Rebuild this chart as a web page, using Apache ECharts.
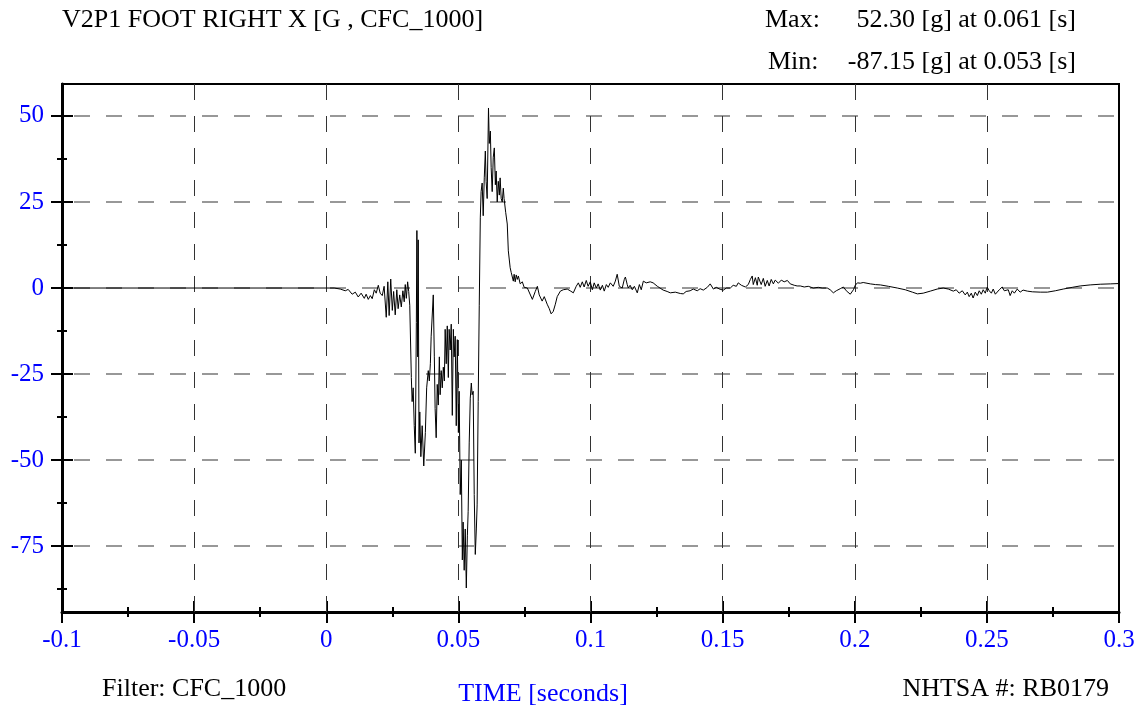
<!DOCTYPE html>
<html>
<head>
<meta charset="utf-8">
<script src="https://cdn.jsdelivr.net/npm/echarts@6/dist/echarts.min.js"></script>
<style>
html,body{margin:0;padding:0;background:#fff;}
#chart{width:1144px;height:708px;}
</style>
</head>
<body>
<div id="chart"></div>
<script>
// ---- data ----
var titleText = 'V2P1 FOOT RIGHT X [G , CFC_1000]';
var maxLabel = 'Max:';
var maxText = '52.30 [g] at 0.061 [s]';
var minLabel = 'Min:';
var minText = '-87.15 [g] at 0.053 [s]';
var filterText = 'Filter: CFC_1000';
var xAxisTitle = 'TIME [seconds]';
var nhtsaText = 'NHTSA #: RB0179';

var xMin = -0.1, xMax = 0.3, xInterval = 0.05;
var yMin = -94.12, yMax = 59.27;
var yTicks = [-75, -50, -25, 0, 25, 50];
var yMinorTicks = [-87.5, -62.5, -37.5, -12.5, 12.5, 37.5];
var xGridValues = [-0.05, 0, 0.05, 0.1, 0.15, 0.2, 0.25];

// time [s]
var times = [
-0.1, 0, 0.003, 0.0053, 0.0072, 0.0083, 0.0098, 0.0110, 0.0121, 0.0132, 0.0144, 0.0151, 0.0159, 0.0167, 0.0174, 0.0182, 0.0189, 0.0197, 0.0204, 0.0212, 0.0219,
0.0227, 0.0233, 0.0238, 0.0244, 0.0250, 0.0255, 0.0261, 0.0267, 0.0272, 0.0278, 0.0284, 0.0290, 0.0295, 0.0299, 0.0303, 0.0308, 0.0312, 0.0316,
0.0322, 0.0325, 0.0329, 0.0333, 0.0337, 0.0341, 0.0343, 0.0346, 0.0348, 0.0351, 0.0354, 0.0358, 0.0363, 0.0369, 0.0375, 0.0380, 0.0386, 0.0390, 0.0394, 0.0397,
0.0405, 0.0409, 0.0412, 0.0416, 0.0420, 0.0424, 0.0428, 0.0431, 0.0435, 0.0439, 0.0443, 0.0447, 0.0450, 0.0454, 0.0458, 0.0462, 0.0465, 0.0469, 0.0473, 0.0477,
0.0481, 0.0484, 0.0488, 0.0492, 0.0496, 0.0500, 0.0503, 0.0507, 0.0511, 0.0515, 0.0518, 0.0522, 0.0526, 0.0530, 0.0534, 0.0537, 0.0541, 0.0545, 0.0549, 0.0552,
0.0556, 0.0560, 0.0564, 0.0568, 0.0571, 0.0575, 0.0579, 0.0583, 0.0586, 0.0590, 0.0594, 0.0598, 0.0602, 0.0605, 0.0609, 0.0614, 0.0617, 0.0621, 0.0624, 0.0628,
0.0632, 0.0636, 0.0640, 0.0643, 0.0647, 0.0651, 0.0655, 0.0658, 0.0662, 0.0666, 0.0670, 0.0673, 0.0679, 0.0685, 0.0689, 0.0696, 0.0700, 0.0708, 0.0711, 0.0715,
0.0719, 0.0723, 0.0727, 0.0734, 0.0742, 0.0749, 0.0761, 0.0768, 0.0780, 0.0791, 0.0799, 0.0806, 0.0817, 0.0825, 0.0836, 0.0844, 0.0851, 0.0859, 0.0867, 0.0874,
0.0886, 0.0897, 0.0912, 0.0923, 0.0935, 0.0946, 0.0954, 0.0961, 0.0969, 0.0976, 0.0984, 0.0991, 0.0999, 0.1007, 0.1014, 0.1022, 0.1029, 0.1037, 0.1045, 0.1052,
0.1060, 0.1067, 0.1075, 0.1086, 0.1094, 0.1101, 0.1109, 0.1116, 0.1120, 0.1128, 0.1132, 0.1139, 0.1143, 0.1150, 0.1158, 0.1166, 0.1177, 0.1185, 0.1192, 0.1200,
0.1211, 0.1226, 0.1237, 0.1253, 0.1275, 0.1290, 0.1302, 0.1321, 0.1340, 0.1351, 0.1362, 0.1377, 0.1389, 0.1404, 0.1415, 0.1427, 0.1442, 0.1453, 0.1465, 0.1476,
0.1491, 0.1503, 0.1514, 0.1529, 0.1540, 0.1552, 0.1559, 0.1571, 0.1586, 0.1597, 0.1605, 0.1612, 0.1616, 0.1624, 0.1631, 0.1635, 0.1642, 0.1646, 0.1654, 0.1661,
0.1669, 0.1676, 0.1684, 0.1692, 0.1699, 0.1711, 0.1722, 0.1733, 0.1745, 0.1756, 0.1771, 0.1782, 0.1794, 0.1809, 0.1824, 0.1843, 0.1862, 0.1877, 0.1896, 0.1907,
0.1919, 0.1930, 0.1945, 0.1957, 0.1968, 0.1983, 0.1995, 0.2002, 0.2010, 0.2021, 0.2032, 0.2059, 0.2078, 0.2097, 0.2127, 0.2161, 0.2191, 0.2218, 0.2237, 0.2259,
0.2286, 0.2312, 0.2335, 0.2354, 0.2373, 0.2384, 0.2395, 0.2407, 0.2418, 0.2426, 0.2433, 0.2441, 0.2448, 0.2456, 0.2464, 0.2471, 0.2479, 0.2486, 0.2494, 0.2501,
0.2509, 0.2517, 0.2524, 0.2532, 0.2539, 0.2547, 0.2558, 0.2566, 0.2573, 0.2581, 0.2588, 0.2596, 0.2604, 0.2615, 0.2626, 0.2637, 0.2653, 0.2672, 0.2702, 0.2729,
0.2759, 0.2789, 0.2823, 0.2853, 0.2891, 0.2929, 0.2967, 0.3
];
// acceleration [g]
var accel = [
0, 0, 0, -0.3, -0.8, -0.4, -1.8, -1.2, -2.6, -1.5, -3.0, -1.8, -3.3, -2.2, -3.1, -0.5, -1.5, 0.8, -1.5, -2.2, 0.5,
-8.5, 1.8, -8.0, 2.6, -6.5, -1.0, -7.8, -0.5, -6.0, -2.0, -5.5, -0.8, -4.0, 1.0, -3.0, 1.8, -1.0, -5,
-26, -33, -29, -40, -48, -10, 16.7, -20, 14, -45, -36, -49, -40, -51.7, -42, -29, -24, -27, -22, -14,
-2, -20, -35, -43.5, -28, -34, -20, -31, -24, -29, -23, -27, -12, -22, -11, -26, -12, -18, -10.5, -37,
-12, -20, -14, -40, -15, -42, -30, -60, -50, -79, -68, -82, -70, -87.15, -72, -65, -45, -32, -27.6, -31,
-30, -60, -77.4, -70, -63, -33, -5, 20.4, 28, 30.5, 21, 32, 39.8, 31, 26, 52.3, 42, 45.6, 35, 28,
38, 40.7, 30, 34, 25, 31, 27, 32, 26, 25, 29, 26, 22, 18.6, 10.8, 5.9, 4.5, 2, 4, 1.8,
3.8, 2.5, 3.5, 1.2, 1.8, 0.2, 0, -0.5, -3.3, -1, 0.5, -2, -3.8, -2.5, -4.7, -6, -7.5, -6.8, -4.7, -2.5,
-0.9, -0.5, -0.3, -0.8, -1.4, 0.5, 1.5, 0.2, 1.8, 0.3, 2.2, 0.5, 1.8, -0.5, 1.5, 0, 1.2, -0.6, 0.8, -0.9,
1, 0.2, 1.5, 0.5, 2, 4, 0.5, 1, 0, 2.5, 3.2, 1, 0, 0.8, -0.5, 0.5, -1.4, 1, -0.5, 2,
1.5, 1.8, 1.5, 0.5, -0.6, -1, -1.4, -1.2, -1.6, -1.7, -1.0, -0.8, -0.3, -0.8, -0.2, -0.6, 0.2, 1.2, -0.3, 0.2,
-0.4, -0.6, 0, 0, 0.8, 0.5, 1.5, 0.8, 0.3, 1, 2.5, 3.5, 1, 3, 0.8, 3.2, 3.5, 1, 2.8, 0.5,
2.2, 0.6, 2.5, 1.2, 2.3, 1.4, 2.3, 1.8, 2.2, 1.2, 0.8, 0.6, 0.6, 0.3, 0.5, 0, 0.2, 0, 0, -0.5,
-1.4, -0.8, -0.2, 0.3, -0.8, -1.8, -0.5, 0.8, 1.5, 1.4, 1.6, 1.2, 1.0, 0.9, 0.5, 0, -0.5, -1.2, -1.7, -1.5,
-0.9, -0.3, 0, -0.3, -0.9, -0.5, -1.5, -0.8, -2, -1.2, -2.5, -1.5, -2.9, -1.2, -2.2, -0.8, -1.8, -0.5, -1.5, 0.3,
-0.8, -1.5, -0.3, -1.8, -2.0, -0.5, 0.3, -0.8, -1.2, -0.5, -2.2, -0.8, -1.5, -0.3, -1.2, -0.6, -0.9, -1.1, -1.2, -1.2,
-0.8, -0.3, 0.2, 0.6, 0.9, 1.1, 1.2, 1.3
];

// ---- chart ----
var seriesData = times.map(function (t, i) { return [t, accel[i]]; });
var FONT = 'Liberation Serif';
var BLUE = '#0000ff';
var TXT = '26px "Liberation Serif"';

var chart = echarts.init(document.getElementById('chart'), null, {renderer: 'canvas'});

function yAxisDef(values, inside, len, showLine, showLabel) {
  return {
    type: 'value', min: yMin, max: yMax, position: 'left',
    axisLine: {show: showLine, onZero: false, lineStyle: {color: '#000', width: 3}},
    axisTick: {show: true, customValues: values, inside: inside, length: len, lineStyle: {color: '#000', width: 2}},
    axisLabel: {show: showLabel, customValues: values, color: BLUE, fontFamily: FONT, fontSize: 25, margin: 18},
    splitLine: {show: false}
  };
}
function xAxisDef(inside, showLine, showLabel) {
  return {
    type: 'value', min: xMin, max: xMax, interval: xInterval, position: 'bottom',
    axisLine: {show: showLine, onZero: false, lineStyle: {color: '#000', width: 3}},
    axisTick: {show: true, inside: inside, length: 11, lineStyle: {color: '#000', width: 2}},
    minorTick: {show: true, splitNumber: 2, length: 5, lineStyle: {color: '#000', width: 2}},
    axisLabel: {show: showLabel, color: BLUE, fontFamily: FONT, fontSize: 25, margin: 16,
      formatter: function (v) { return String(Math.round(v * 1000) / 1000); }},
    splitLine: {show: false}, minorSplitLine: {show: false}
  };
}

var gridLines = yTicks.map(function (v) {
  return {yAxis: v, lineStyle: {color: '#777', width: 1.5, type: [16, 16], dashOffset: 20}};
}).concat(xGridValues.map(function (v) {
  return {xAxis: v, lineStyle: {color: '#333', width: 1, type: [16, 16]}};
}));

chart.setOption({
  animation: false,
  backgroundColor: '#fff',
  grid: {left: 62, right: 25, top: 84, bottom: 96, show: true, borderColor: '#000', borderWidth: 2, containLabel: false},
  xAxis: [xAxisDef(false, true, true), xAxisDef(true, false, false)],
  yAxis: [
    yAxisDef(yTicks, false, 11, true, true),
    yAxisDef(yTicks, true, 11, false, false),
    yAxisDef(yMinorTicks, false, 5, false, false),
    yAxisDef(yMinorTicks, true, 5, false, false)
  ],
  series: [{
    type: 'line', xAxisIndex: 0, yAxisIndex: 0, data: seriesData,
    showSymbol: false, symbol: 'none', sampling: null,
    lineStyle: {color: '#000', width: 1},
    z: 3,
    markLine: {silent: true, symbol: ['none', 'none'], label: {show: false}, z: 1, data: gridLines}
  }],
  graphic: [
    {type: 'text', x: 62, y: 20, style: {text: titleText, font: TXT, fill: '#000', align: 'left', verticalAlign: 'middle'}},
    {type: 'text', x: 765, y: 20, style: {text: maxLabel, font: TXT, fill: '#000', align: 'left', verticalAlign: 'middle'}},
    {type: 'text', x: 1076, y: 20, style: {text: maxText, font: TXT, fill: '#000', align: 'right', verticalAlign: 'middle'}},
    {type: 'text', x: 768, y: 62, style: {text: minLabel, font: TXT, fill: '#000', align: 'left', verticalAlign: 'middle'}},
    {type: 'text', x: 1076, y: 62, style: {text: minText, font: TXT, fill: '#000', align: 'right', verticalAlign: 'middle'}},
    {type: 'text', x: 102, y: 689, style: {text: filterText, font: TXT, fill: '#000', align: 'left', verticalAlign: 'middle'}},
    {type: 'text', x: 543, y: 694, style: {text: xAxisTitle, font: TXT, fill: BLUE, align: 'center', verticalAlign: 'middle'}},
    {type: 'text', x: 1109, y: 689, style: {text: nhtsaText, font: TXT, fill: '#000', align: 'right', verticalAlign: 'middle'}}
  ]
});
</script>
</body>
</html>
